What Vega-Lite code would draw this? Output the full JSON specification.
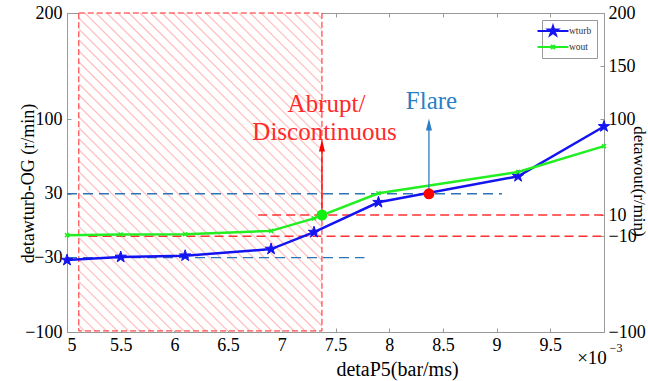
{
  "$schema": "https://vega.github.io/schema/vega-lite/v6.json",
  "width": 537,
  "height": 319,
  "autosize": "none",
  "padding": {"left": 67, "top": 13, "right": 44, "bottom": 49},
  "background": "white",
  "config": {
    "font": "Liberation Serif, DejaVu Serif, serif",
    "view": {"stroke": "#999999", "strokeWidth": 1},
    "axis": {
      "labelFont": "Liberation Serif, DejaVu Serif, serif", "titleFont": "Liberation Serif, DejaVu Serif, serif",
      "labelFontSize": 18, "titleFontSize": 20, "titleFontWeight": "normal",
      "labelColor": "#000000", "titleColor": "#000000",
      "domainColor": "#999999", "tickColor": "#999999", "grid": false,
      "tickSize": -4
    },
    "legend": {"labelFont": "Liberation Serif, DejaVu Serif, serif"},
    "text": {"font": "Liberation Serif, DejaVu Serif, serif"}
  },
  "datasets": {
    "series": [
      {"s": "wturb", "x": 5.0, "y": -32.4},
      {"s": "wturb", "x": 5.5, "y": -29.5},
      {"s": "wturb", "x": 6.1, "y": -28.3},
      {"s": "wturb", "x": 6.9, "y": -22.0},
      {"s": "wturb", "x": 7.3, "y": -6.1},
      {"s": "wturb", "x": 7.9, "y": 22.0},
      {"s": "wturb", "x": 9.2, "y": 46.4},
      {"s": "wturb", "x": 10.0, "y": 93.3},
      {"s": "wout", "x": 5.0, "y": -8.9},
      {"s": "wout", "x": 5.5, "y": -8.3},
      {"s": "wout", "x": 6.1, "y": -8.0},
      {"s": "wout", "x": 6.9, "y": -4.9},
      {"s": "wout", "x": 7.3, "y": 6.8},
      {"s": "wout", "x": 7.9, "y": 30.5},
      {"s": "wout", "x": 9.2, "y": 50.5},
      {"s": "wout", "x": 10.0, "y": 74.8}
    ],
    "zone": [{"x": 5.11, "x2": 7.374, "y": -99, "y2": 200}],
    "bdash": [{"x": 5, "x2": 9.05, "y": 30}, {"x": 5, "x2": 7.77, "y": -30}],
    "rdash": [{"x": 6.78, "x2": 10, "y": 10}, {"x": 5.2, "x2": 10, "y": -10}],
    "events": [
      {"kind": "abrupt", "x": 7.374, "y": 10, "tip": 75.4},
      {"kind": "flare", "x": 8.37, "y": 30, "tip": 95.2}
    ],
    "notes": [
      {"kind": "abrupt", "x": 7.416, "y": 114, "t": "Abrupt/"},
      {"kind": "abrupt", "x": 7.398, "y": 87.7, "t": "Discontinuous"},
      {"kind": "flare", "x": 8.394, "y": 116.8, "t": "Flare"}
    ],
    "corner": [{"x": 10, "y": -100}]
  },
  "layer": [
    {
      "layer": [
        {
          "data": {"name": "zone"},
          "mark": {
            "type": "rect", "stroke": "#ff2020", "strokeWidth": 1, "strokeDash": [6, 3],
            "fill": {
              "gradient": "linear", "x1": 0, "y1": 1, "x2": 0.849, "y2": -0.115,
              "stops": [
                {"offset": 0, "color": "#fff"},
                {"offset": 0.0070, "color": "#fff"}, {"offset": 0.0100, "color": "#fbb"}, {"offset": 0.0130, "color": "#fff"},
                {"offset": 0.0266, "color": "#fff"}, {"offset": 0.0296, "color": "#fbb"}, {"offset": 0.0326, "color": "#fff"},
                {"offset": 0.0462, "color": "#fff"}, {"offset": 0.0492, "color": "#fbb"}, {"offset": 0.0522, "color": "#fff"},
                {"offset": 0.0658, "color": "#fff"}, {"offset": 0.0688, "color": "#fbb"}, {"offset": 0.0718, "color": "#fff"},
                {"offset": 0.0854, "color": "#fff"}, {"offset": 0.0884, "color": "#fbb"}, {"offset": 0.0914, "color": "#fff"},
                {"offset": 0.1050, "color": "#fff"}, {"offset": 0.1080, "color": "#fbb"}, {"offset": 0.1110, "color": "#fff"},
                {"offset": 0.1246, "color": "#fff"}, {"offset": 0.1276, "color": "#fbb"}, {"offset": 0.1306, "color": "#fff"},
                {"offset": 0.1442, "color": "#fff"}, {"offset": 0.1472, "color": "#fbb"}, {"offset": 0.1502, "color": "#fff"},
                {"offset": 0.1638, "color": "#fff"}, {"offset": 0.1668, "color": "#fbb"}, {"offset": 0.1698, "color": "#fff"},
                {"offset": 0.1834, "color": "#fff"}, {"offset": 0.1864, "color": "#fbb"}, {"offset": 0.1894, "color": "#fff"},
                {"offset": 0.2030, "color": "#fff"}, {"offset": 0.2060, "color": "#fbb"}, {"offset": 0.2090, "color": "#fff"},
                {"offset": 0.2226, "color": "#fff"}, {"offset": 0.2256, "color": "#fbb"}, {"offset": 0.2286, "color": "#fff"},
                {"offset": 0.2422, "color": "#fff"}, {"offset": 0.2452, "color": "#fbb"}, {"offset": 0.2482, "color": "#fff"},
                {"offset": 0.2618, "color": "#fff"}, {"offset": 0.2648, "color": "#fbb"}, {"offset": 0.2678, "color": "#fff"},
                {"offset": 0.2814, "color": "#fff"}, {"offset": 0.2844, "color": "#fbb"}, {"offset": 0.2874, "color": "#fff"},
                {"offset": 0.3010, "color": "#fff"}, {"offset": 0.3040, "color": "#fbb"}, {"offset": 0.3070, "color": "#fff"},
                {"offset": 0.3206, "color": "#fff"}, {"offset": 0.3236, "color": "#fbb"}, {"offset": 0.3266, "color": "#fff"},
                {"offset": 0.3402, "color": "#fff"}, {"offset": 0.3432, "color": "#fbb"}, {"offset": 0.3462, "color": "#fff"},
                {"offset": 0.3598, "color": "#fff"}, {"offset": 0.3628, "color": "#fbb"}, {"offset": 0.3658, "color": "#fff"},
                {"offset": 0.3794, "color": "#fff"}, {"offset": 0.3824, "color": "#fbb"}, {"offset": 0.3854, "color": "#fff"},
                {"offset": 0.3990, "color": "#fff"}, {"offset": 0.4020, "color": "#fbb"}, {"offset": 0.4050, "color": "#fff"},
                {"offset": 0.4186, "color": "#fff"}, {"offset": 0.4216, "color": "#fbb"}, {"offset": 0.4246, "color": "#fff"},
                {"offset": 0.4382, "color": "#fff"}, {"offset": 0.4412, "color": "#fbb"}, {"offset": 0.4442, "color": "#fff"},
                {"offset": 0.4578, "color": "#fff"}, {"offset": 0.4608, "color": "#fbb"}, {"offset": 0.4638, "color": "#fff"},
                {"offset": 0.4774, "color": "#fff"}, {"offset": 0.4804, "color": "#fbb"}, {"offset": 0.4834, "color": "#fff"},
                {"offset": 0.4970, "color": "#fff"}, {"offset": 0.5000, "color": "#fbb"}, {"offset": 0.5030, "color": "#fff"},
                {"offset": 0.5166, "color": "#fff"}, {"offset": 0.5196, "color": "#fbb"}, {"offset": 0.5226, "color": "#fff"},
                {"offset": 0.5362, "color": "#fff"}, {"offset": 0.5392, "color": "#fbb"}, {"offset": 0.5422, "color": "#fff"},
                {"offset": 0.5558, "color": "#fff"}, {"offset": 0.5588, "color": "#fbb"}, {"offset": 0.5618, "color": "#fff"},
                {"offset": 0.5754, "color": "#fff"}, {"offset": 0.5784, "color": "#fbb"}, {"offset": 0.5814, "color": "#fff"},
                {"offset": 0.5950, "color": "#fff"}, {"offset": 0.5980, "color": "#fbb"}, {"offset": 0.6010, "color": "#fff"},
                {"offset": 0.6146, "color": "#fff"}, {"offset": 0.6176, "color": "#fbb"}, {"offset": 0.6206, "color": "#fff"},
                {"offset": 0.6342, "color": "#fff"}, {"offset": 0.6372, "color": "#fbb"}, {"offset": 0.6402, "color": "#fff"},
                {"offset": 0.6538, "color": "#fff"}, {"offset": 0.6568, "color": "#fbb"}, {"offset": 0.6598, "color": "#fff"},
                {"offset": 0.6734, "color": "#fff"}, {"offset": 0.6764, "color": "#fbb"}, {"offset": 0.6794, "color": "#fff"},
                {"offset": 0.6930, "color": "#fff"}, {"offset": 0.6960, "color": "#fbb"}, {"offset": 0.6990, "color": "#fff"},
                {"offset": 0.7126, "color": "#fff"}, {"offset": 0.7156, "color": "#fbb"}, {"offset": 0.7186, "color": "#fff"},
                {"offset": 0.7322, "color": "#fff"}, {"offset": 0.7352, "color": "#fbb"}, {"offset": 0.7382, "color": "#fff"},
                {"offset": 0.7518, "color": "#fff"}, {"offset": 0.7548, "color": "#fbb"}, {"offset": 0.7578, "color": "#fff"},
                {"offset": 0.7714, "color": "#fff"}, {"offset": 0.7744, "color": "#fbb"}, {"offset": 0.7774, "color": "#fff"},
                {"offset": 0.7910, "color": "#fff"}, {"offset": 0.7940, "color": "#fbb"}, {"offset": 0.7970, "color": "#fff"},
                {"offset": 0.8106, "color": "#fff"}, {"offset": 0.8136, "color": "#fbb"}, {"offset": 0.8166, "color": "#fff"},
                {"offset": 0.8302, "color": "#fff"}, {"offset": 0.8332, "color": "#fbb"}, {"offset": 0.8362, "color": "#fff"},
                {"offset": 0.8498, "color": "#fff"}, {"offset": 0.8528, "color": "#fbb"}, {"offset": 0.8558, "color": "#fff"},
                {"offset": 0.8694, "color": "#fff"}, {"offset": 0.8724, "color": "#fbb"}, {"offset": 0.8754, "color": "#fff"},
                {"offset": 0.8890, "color": "#fff"}, {"offset": 0.8920, "color": "#fbb"}, {"offset": 0.8950, "color": "#fff"},
                {"offset": 0.9086, "color": "#fff"}, {"offset": 0.9116, "color": "#fbb"}, {"offset": 0.9146, "color": "#fff"},
                {"offset": 0.9282, "color": "#fff"}, {"offset": 0.9312, "color": "#fbb"}, {"offset": 0.9342, "color": "#fff"},
                {"offset": 0.9478, "color": "#fff"}, {"offset": 0.9508, "color": "#fbb"}, {"offset": 0.9538, "color": "#fff"},
                {"offset": 0.9674, "color": "#fff"}, {"offset": 0.9704, "color": "#fbb"}, {"offset": 0.9734, "color": "#fff"},
                {"offset": 0.9870, "color": "#fff"}, {"offset": 0.9900, "color": "#fbb"}, {"offset": 0.9930, "color": "#fff"},
                {"offset": 1, "color": "#fff"}
              ]
            }
          },
          "encoding": {
            "x": {
              "field": "x", "type": "quantitative",
              "scale": {"domain": [5, 10], "nice": false, "zero": false},
              "axis": {
                "orient": "bottom", "values": [5, 5.5, 6, 6.5, 7, 7.5, 8, 8.5, 9, 9.5], "format": "~g",
                "labelFontSize": 18,
                "title": "detaP5(bar/ms)", "titleFontSize": 20, "titleX": 330, "titleY": 43, "titleBaseline": "alphabetic",
                "labelPadding": 8
              }
            },
            "x2": {"field": "x2"},
            "y": {
              "field": "y", "type": "quantitative",
              "scale": {"domain": [-100, 200], "nice": false, "zero": false},
              "axis": {
                "orient": "left", "values": [-100, -30, 30, 100, 200], "format": "d",
                "title": "detawturb-OG (r/min)", "titleFontSize": 18, "titleX": -34, "titleY": 170,
                "titleBaseline": "alphabetic", "titleAngle": -90, "labelPadding": 9
              }
            },
            "y2": {"field": "y2"}
          }
        },
        {
          "data": {"name": "bdash"},
          "mark": {"type": "rule", "color": "#2c74b5", "strokeWidth": 1.3, "strokeDash": [10, 6]},
          "encoding": {
            "x": {"field": "x", "type": "quantitative"},
            "x2": {"field": "x2"},
            "y": {"field": "y", "type": "quantitative"}
          }
        },
        {
          "data": {"name": "rdash"},
          "mark": {"type": "rule", "color": "#ff3030", "strokeWidth": 1.5, "strokeDash": [9, 5]},
          "encoding": {
            "x": {"field": "x", "type": "quantitative"},
            "x2": {"field": "x2"},
            "y": {"field": "y", "type": "quantitative"}
          }
        },
        {
          "data": {"name": "series"},
          "mark": {"type": "line", "strokeWidth": 2.5},
          "encoding": {
            "x": {"field": "x", "type": "quantitative"},
            "y": {"field": "y", "type": "quantitative"},
            "color": {
              "field": "s", "type": "nominal",
              "scale": {"domain": ["wturb", "wout"], "range": ["#1414f0", "#22ee22"]},
              "legend": {
                "orient": "top-right", "offset": 7, "title": null, "padding": 5,
                "strokeColor": "#999999", "fillColor": "#ffffff",
                "labelFontSize": 9.5, "labelColor": "#333333",
                "symbolSize": 100, "labelOffset": 10, "rowPadding": 1, "symbolStrokeWidth": 2,
                "encode": {
                  "symbols": {
                    "update": {
                      "shape": {"signal": "datum.value === 'wturb' ? 'M-3.1,0H3.1M0,-1L0.225,-0.309L0.951,-0.309L0.363,0.118L0.588,0.809L0,0.382L-0.588,0.809L-0.363,0.118L-0.951,-0.309L-0.225,-0.309Z' : 'M-3.1,0H3.1M-0.4,-0.4L0.4,0.4M-0.4,0.4L0.4,-0.4'"},
                      "fill": {"signal": "datum.value === 'wturb' ? '#1414f0' : 'transparent'"}
                    }
                  }
                }
              }
            }
          }
        },
        {
          "data": {"name": "series"},
          "transform": [{"filter": "datum.s === 'wturb'"}],
          "mark": {
            "type": "point", "filled": true, "color": "#1414f0", "opacity": 1, "size": 144,
            "stroke": "#1414f0", "strokeWidth": 1,
            "shape": "M0,-1L0.225,-0.309L0.951,-0.309L0.363,0.118L0.588,0.809L0,0.382L-0.588,0.809L-0.363,0.118L-0.951,-0.309L-0.225,-0.309Z"
          },
          "encoding": {
            "x": {"field": "x", "type": "quantitative"},
            "y": {"field": "y", "type": "quantitative"}
          }
        },
        {
          "data": {"name": "series"},
          "transform": [{"filter": "datum.s === 'wout'"}],
          "mark": {
            "type": "point", "filled": false, "color": "#22ee22", "opacity": 1, "size": 16,
            "strokeWidth": 1.5, "shape": "M-1,-1L1,1M-1,1L1,-1"
          },
          "encoding": {
            "x": {"field": "x", "type": "quantitative"},
            "y": {"field": "y", "type": "quantitative"}
          }
        },
        {
          "data": {"name": "events"},
          "transform": [{"filter": "datum.kind === 'abrupt'"}],
          "mark": {"type": "rule", "color": "#ff0000", "strokeWidth": 1.3},
          "encoding": {
            "x": {"field": "x", "type": "quantitative"},
            "y": {"field": "y", "type": "quantitative"},
            "y2": {"field": "tip"}
          }
        },
        {
          "data": {"name": "events"},
          "transform": [{"filter": "datum.kind === 'flare'"}],
          "mark": {"type": "rule", "color": "#2a7fc4", "strokeWidth": 1.3},
          "encoding": {
            "x": {"field": "x", "type": "quantitative"},
            "y": {"field": "y", "type": "quantitative"},
            "y2": {"field": "tip"}
          }
        },
        {
          "data": {"name": "events"},
          "transform": [{"filter": "datum.kind === 'abrupt'"}],
          "mark": {"type": "point", "filled": true, "color": "#ff0000", "opacity": 1, "size": 144, "shape": "M0,-1L0.5,1L-0.5,1Z"},
          "encoding": {
            "x": {"field": "x", "type": "quantitative"},
            "y": {"field": "tip", "type": "quantitative"}
          }
        },
        {
          "data": {"name": "events"},
          "transform": [{"filter": "datum.kind === 'flare'"}],
          "mark": {"type": "point", "filled": true, "color": "#2a7fc4", "opacity": 1, "size": 144, "shape": "M0,-1L0.5,1L-0.5,1Z"},
          "encoding": {
            "x": {"field": "x", "type": "quantitative"},
            "y": {"field": "tip", "type": "quantitative"}
          }
        },
        {
          "data": {"name": "events"},
          "transform": [{"filter": "datum.kind === 'abrupt'"}],
          "mark": {"type": "point", "filled": true, "color": "#11ee11", "opacity": 1, "size": 120, "shape": "circle"},
          "encoding": {
            "x": {"field": "x", "type": "quantitative"},
            "y": {"field": "y", "type": "quantitative"}
          }
        },
        {
          "data": {"name": "events"},
          "transform": [{"filter": "datum.kind === 'flare'"}],
          "mark": {"type": "point", "filled": true, "color": "#ff0000", "opacity": 1, "size": 120, "shape": "circle"},
          "encoding": {
            "x": {"field": "x", "type": "quantitative"},
            "y": {"field": "y", "type": "quantitative"}
          }
        },
        {
          "data": {"name": "notes"},
          "transform": [{"filter": "datum.kind === 'abrupt'"}],
          "mark": {"type": "text", "fontSize": 25, "color": "#ff2a2a", "align": "center", "baseline": "middle"},
          "encoding": {
            "x": {"field": "x", "type": "quantitative"},
            "y": {"field": "y", "type": "quantitative"},
            "text": {"field": "t"}
          }
        },
        {
          "data": {"name": "notes"},
          "transform": [{"filter": "datum.kind === 'flare'"}],
          "mark": {"type": "text", "fontSize": 25, "color": "#2a7fc4", "align": "center", "baseline": "middle"},
          "encoding": {
            "x": {"field": "x", "type": "quantitative"},
            "y": {"field": "y", "type": "quantitative"},
            "text": {"field": "t"}
          }
        },
        {
          "data": {"name": "corner"},
          "mark": {"type": "text", "text": "×10", "fontSize": 19, "color": "#000000", "align": "center", "baseline": "middle", "dx": -12, "dy": 26},
          "encoding": {
            "x": {"field": "x", "type": "quantitative"},
            "y": {"field": "y", "type": "quantitative"}
          }
        },
        {
          "data": {"name": "corner"},
          "mark": {"type": "text", "text": "−3", "fontSize": 12, "color": "#000000", "align": "center", "baseline": "middle", "dx": 12, "dy": 16},
          "encoding": {
            "x": {"field": "x", "type": "quantitative"},
            "y": {"field": "y", "type": "quantitative"}
          }
        }
      ]
    },
    {
      "data": {"name": "series"},
      "mark": {"type": "point", "opacity": 0},
      "encoding": {
        "x": {
          "field": "x", "type": "quantitative",
          "scale": {"domain": [5, 10], "nice": false, "zero": false},
          "axis": {"orient": "top", "values": [5.5, 6, 6.5, 7, 7.5, 8, 8.5, 9, 9.5], "labels": false, "title": null, "domain": false}
        },
        "y": {
          "field": "y", "type": "quantitative",
          "scale": {"domain": [-100, 200], "nice": false, "zero": false},
          "axis": {
            "orient": "right", "values": [-100, -10, 10, 100, 150, 200], "domain": false, "format": "d",
            "title": "detawout(r/min)", "titleFontSize": 17, "titleAngle": 90, "titleX": 29, "titleY": 168,
            "titleBaseline": "alphabetic", "labelPadding": 8
          }
        }
      }
    }
  ],
  "resolve": {"scale": {"x": "independent", "y": "independent"}}
}
